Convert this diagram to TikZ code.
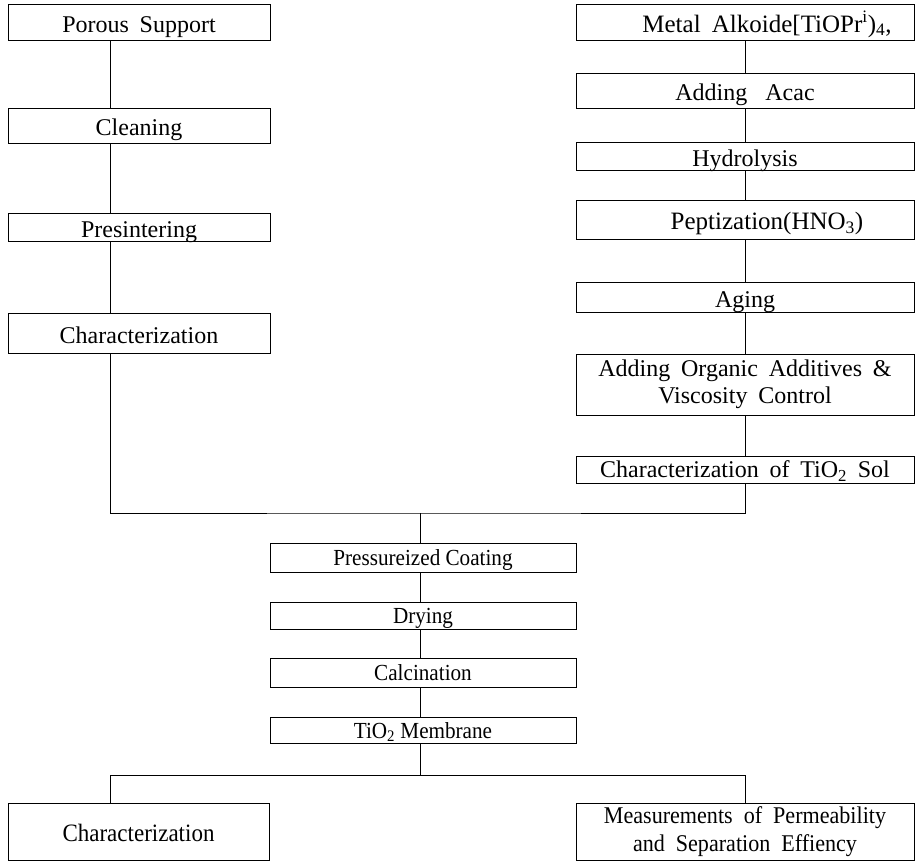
\documentclass[tikz,border=0pt]{standalone}
\usepackage{fontspec}
\setmainfont{Liberation Serif}
\newfontfamily\condfont[FakeStretch=0.92]{Liberation Serif}
\newcommand\wsp{\hspace{0.45em}}
\begin{document}
\begin{tikzpicture}[x=1pt,y=-1pt,
  box/.style={draw,line width=0.9pt,rectangle,inner sep=0pt,
    font=\fontsize{24}{27}\selectfont},
  sl/.style={text height=21pt,text depth=1pt},
  ml/.style={align=center},
  cbox/.style={box,font=\fontsize{23}{27}\selectfont\condfont,text height=18pt,text depth=2pt},
  bbox/.style={box,font=\fontsize{25}{24}\selectfont\condfont},
  conn/.style={line width=0.9pt}]
\useasboundingbox (0,0) rectangle (916,863);
% left column
\node[box,sl,minimum width=262,minimum height=36] (ps) at (139,22) {Porous\wsp Support};
\node[box,sl,minimum width=262,minimum height=35] (cl) at (139,125.5) {Cleaning};
\node[box,sl,minimum width=262,minimum height=28] (pr) at (139,227) {Presintering};
\node[box,sl,minimum width=262,minimum height=40] (ch) at (139,333) {Characterization};
% right column
\node[box,sl,minimum width=338,minimum height=36,font=\fontsize{25}{27}\selectfont] (ma) at (745,22) {\hspace*{44pt}Metal\wsp Alkoide[TiOPr\textsuperscript{i})\textsubscript{4},};
\node[box,sl,minimum width=338,minimum height=35] (aa) at (745,90.5) {Adding\ \ \ Acac};
\node[box,sl,minimum width=338,minimum height=28] (hy) at (745,156) {Hydrolysis};
\node[box,sl,minimum width=338,minimum height=39,font=\fontsize{25}{27}\selectfont] (pe) at (745,219.5) {\hspace*{44pt}Peptization(HNO\textsubscript{3})};
\node[box,sl,minimum width=338,minimum height=30] (ag) at (745,297) {Aging};
\node[box,ml,minimum width=338,minimum height=61] (ao) at (745,384.5) {Adding\wsp Organic\wsp Additives\wsp \&\\Viscosity\wsp Control};
\node[box,minimum width=338,minimum height=27,text height=18pt,text depth=2pt] (cs) at (745,469.5) {Characterization\wsp of\wsp TiO\textsubscript{2}\wsp Sol};
% middle column
\node[cbox,minimum width=306,minimum height=29] (pc) at (423,557.5) {Pressureized Coating};
\node[cbox,minimum width=306,minimum height=27] (dr) at (423,615.5) {Drying};
\node[cbox,minimum width=306,minimum height=29] (ca) at (423,672.5) {Calcination};
\node[cbox,minimum width=306,minimum height=26] (tm) at (423,730) {TiO\textsubscript{2} Membrane};
% bottom
\node[bbox,minimum width=261,minimum height=57,text height=22pt,text depth=3pt] (bc) at (138.5,831.5) {Characterization};
\node[bbox,ml,minimum width=338,minimum height=57,font=\fontsize{24}{28}\selectfont\condfont] (mp) at (745,831.5) {Measurements\ \ of\ \ Permeability\\and\ \ Separation\ \ Effiency};
% helper coordinates
\coordinate (lx) at (110,0);
\coordinate (mx) at (420,0);
\coordinate (j1) at (420,513);
\coordinate (j2) at (420,775);
% left connectors
\draw[conn] (ps.south -| lx) -- (cl.north -| lx);
\draw[conn] (cl.south -| lx) -- (pr.north -| lx);
\draw[conn] (pr.south -| lx) -- (ch.north -| lx);
% right connectors
\draw[conn] (ma) -- (aa);
\draw[conn] (aa) -- (hy);
\draw[conn] (hy) -- (pe);
\draw[conn] (pe) -- (ag);
\draw[conn] (ag) -- (ao);
\draw[conn] (ao) -- (cs);
% merge
\draw[conn] (ch.south -| lx) |- (j1) -| (cs.south);
\draw[conn] (j1) -- (pc.north -| mx);
\draw[conn] (pc.south -| mx) -- (dr.north -| mx);
\draw[conn] (dr.south -| mx) -- (ca.north -| mx);
\draw[conn] (ca.south -| mx) -- (tm.north -| mx);
\draw[conn] (tm.south -| mx) -- (j2);
\draw[conn] (bc.north -| lx) |- (j2) -| (mp.north);
\end{tikzpicture}
\end{document}
